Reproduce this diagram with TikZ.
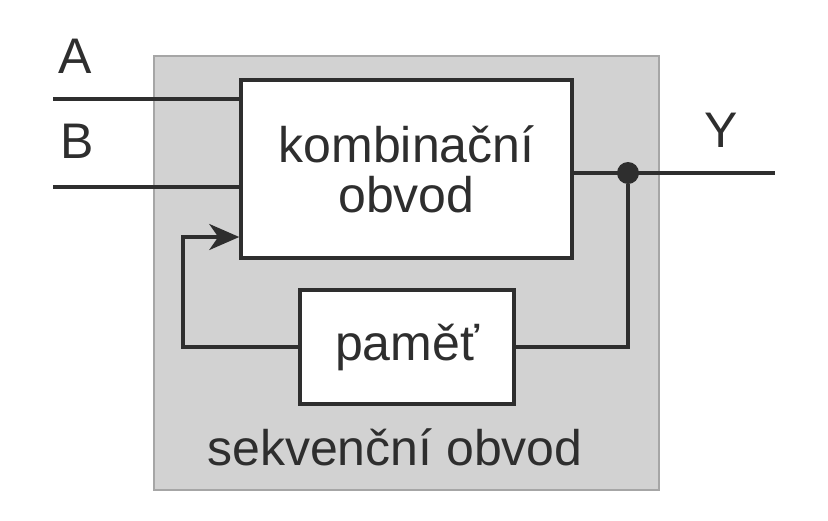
\documentclass[tikz,border=0pt]{standalone}
\usepackage{fontspec}
\setmainfont{Liberation Sans}
\usepackage{tikz}
\usetikzlibrary{positioning,arrows.meta,calc}
\definecolor{ink}{HTML}{2E2E2E}
\definecolor{shade}{HTML}{D2D2D2}
\tikzset{
    x=1pt,
    y=-1pt,
    every node/.style = {
        text=ink,
        font=\fontsize{50}{50}\selectfont
    },
    outer/.style = {
        draw=gray!70,
        fill=shade,
        shape=rectangle,
        minimum width=505pt,
        minimum height=434pt,
        line width=1.5pt
    },
    block/.style = {
        draw=ink,
        fill=white,
        shape=rectangle,
        align=center,
        inner sep=0pt,
        line width=3.5pt
    },
    junction/.style = {
        shape=circle,
        fill=ink,
        inner sep=0pt,
        minimum size=22pt
    },
    label/.style = {
        anchor=base,
        inner sep=0pt
    },
    wire/.style = {
        draw=ink,
        line width=3.5pt
    },
    >={Stealth[length=30pt, width=26pt, inset=9pt]},
}

\begin{document}
\begin{tikzpicture}
            \useasboundingbox (0,0) rectangle (828,520);
            \node[outer] (seq) at (406.5,273) {};
            \node[label] (seqtxt) at (395,465) {sekvenční obvod};

            \node[block, minimum width=331pt, minimum height=178pt] (comb) at (406.5,169) {kombinační\\obvod};
            \node[block, minimum width=214pt, minimum height=114pt] (mem) at (407,347) {paměť};
            \node[junction] (dot) at (628,173) {};

            \node[label] (la) at (75,73) {A};
            \node[label] (lb) at (77,158) {B};
            \node[label] (ly) at (721,147) {Y};

            \coordinate (ina) at (53,99);
            \coordinate (inb) at (53,187);
            \coordinate (out) at (775,173);
            \coordinate (fb) at (183,237);

            \path[wire] (ina) -- (ina -| comb.west);
            \path[wire] (inb) -- (inb -| comb.west);
            \path[wire] (dot -| comb.east) -- (out);
            \path[wire] (dot) |- (mem.east);
            \path[wire, ->] (mem.west) -| (fb) -- (fb -| comb.west);
        \end{tikzpicture}
\end{document}
